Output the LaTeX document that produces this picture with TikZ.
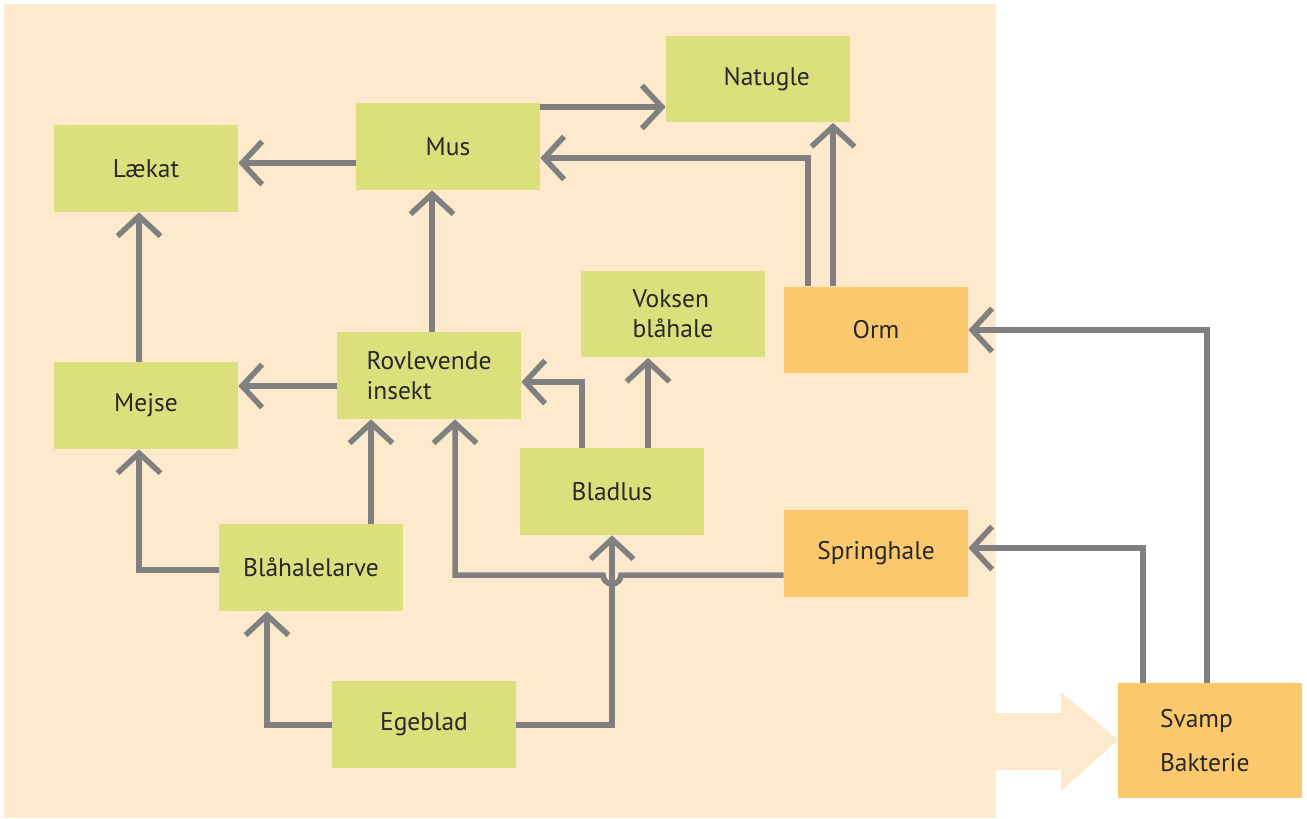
\documentclass[tikz,border=0pt]{standalone}
\usepackage{fontspec}
\setmainfont{PT Sans}
\usetikzlibrary{arrows.meta}
\definecolor{bgpeach}{RGB}{253,233,204}
\definecolor{leafgreen}{RGB}{220,224,124}
\definecolor{soilorange}{RGB}{251,200,110}
\definecolor{linegray}{RGB}{128,128,128}
\definecolor{txtgray}{RGB}{40,40,40}
\newcommand{\boxw}{3.68cm}
\newcommand{\boxh}{1.74cm}

\begin{document}
\begin{tikzpicture}[x=0.02cm, y=-0.02cm,
    font=\fontsize{14.5}{17}\selectfont,
    box/.style={fill=leafgreen, minimum width=\boxw, minimum height=\boxh,
      inner sep=0pt, text=txtgray, align=left},
    soilbox/.style={box, fill=soilorange},
    link/.style={draw=linegray, line width=0.11cm,
      -{Straight Barb[length=0.4cm, width=0.86cm]}}]

    \useasboundingbox (0,0) rectangle (1307,818);
    \fill[bgpeach] (4,4) rectangle (996,818);
    \fill[bgpeach] (996,713) -- (1061,713) -- (1061,692) -- (1118,740)
      -- (1061,791) -- (1061,770) -- (996,770) -- cycle;

    \node[box] (laekat) at (146,168.5) {Lækat};
    \node[box] (mus) at (448,146.5) {Mus};
    \node[box] (natugle) at (758,79) {\hspace*{10pt}Natugle};
    \node[box] (mejse) at (146,405.5) {Mejse};
    \node[box] (rovl) at (429,375.5) {Rovlevende\\insekt};
    \node[box] (voksen) at (673,314) {Voksen\\blåhale};
    \node[soilbox] (orm) at (876,330) {Orm};
    \node[box] (bladlus) at (612,491.5) {Bladlus};
    \node[soilbox] (springhale) at (876,553.5) {Springhale};
    \node[box] (larve) at (311,567.5) {Blåhalelarve};
    \node[box] (egeblad) at (424,724.5) {Egeblad};
    \node[soilbox, minimum height=2.3cm] (svamp) at (1210,740.5)
      {Svamp\\[8pt]Bakterie\hspace*{6pt}};

    \draw[link] (mus.west |- 0,163) -- (laekat.east |- 0,163);
    \draw[link] (mus.east |- 0,107) -- (natugle.west |- 0,107);
    \draw[link] (orm.north -| 808,0) |- (mus.east |- 0,158);
    \draw[link] (orm.north -| 833,0) -- (natugle.south -| 833,0);
    \draw[link] (rovl.north -| 432,0) -- (mus.south -| 432,0);
    \draw[link] (mejse.north -| 139,0) -- (laekat.south -| 139,0);
    \draw[link] (rovl.west |- 0,386) -- (mejse.east |- 0,386);
    \draw[link] (bladlus.north -| 582,0) |- (rovl.east |- 0,382);
    \draw[link] (bladlus.north -| 648,0) -- (voksen.south -| 648,0);
    \draw[link] (larve.west |- 0,570) -| (mejse.south -| 139,0);
    \draw[link] (larve.north -| 371,0) -- (rovl.south -| 371,0);
    \draw[link] (springhale.west |- 0,575) -- (621,575)
      arc[start angle=0, end angle=180, radius=9] -- (455,575)
      -- (rovl.south -| 455,0);
    \draw[link] (egeblad.west |- 0,725) -| (larve.south -| 267,0);
    \draw[link] (egeblad.east |- 0,725) -| (bladlus.south -| 612,0);
    \draw[link] (svamp.north -| 1143,0) |- (springhale.east |- 0,548);
    \draw[link] (svamp.north -| 1207,0) |- (orm.east |- 0,330);

\end{tikzpicture}
\end{document}
